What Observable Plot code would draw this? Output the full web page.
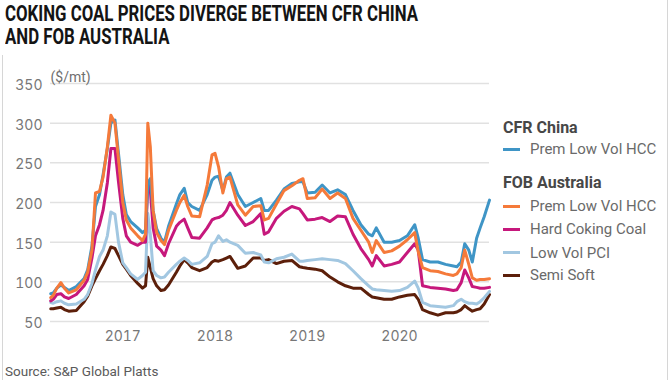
<!DOCTYPE html>
<html>
<head>
<meta charset="utf-8">
<script src="https://cdn.jsdelivr.net/npm/d3@7"></script>
<script src="https://cdn.jsdelivr.net/npm/@observablehq/plot@0.6"></script>
<style>
  html, body { margin: 0; padding: 0; background: #fff; }
  #wrap { position: relative; width: 670px; height: 380px; overflow: hidden; background: #fff; font-family: Roboto, "Noto Sans", sans-serif; }
  #title { position: absolute; left: 5px; top: 2px; font-size: 22.5px; line-height: 23px; font-weight: 700; color: #141414; white-space: nowrap; transform-origin: 0 0; }
  #chart { position: absolute; left: 0; top: 60px; }
  .leg { position: absolute; left: 503px; height: 20px; line-height: 20px; white-space: nowrap; }
  .leg.head { font-weight: 700; font-size: 16px; color: #474747; }
  .leg.item { font-size: 15px; color: #6a6a6a; }
  .sw { position: absolute; left: 0; top: 8.5px; width: 17px; height: 3px; }
  .leg.item span.t { position: absolute; left: 27px; top: 0; }
  #source { position: absolute; left: 5px; top: 361px; height: 20px; line-height: 20px; font-size: 13.5px; color: #5a5a5a; white-space: nowrap; }
  #bl { position: absolute; left: 2px; top: 55px; width: 1px; height: 325px; background: #d6d6d6; }
  #br { position: absolute; left: 667px; top: 0; width: 1px; height: 380px; background: #d6d6d6; }
</style>
</head>
<body>
<div id="wrap">
  <div id="bl"></div><div id="br"></div>
  <div id="title"><div>COKING COAL PRICES DIVERGE BETWEEN CFR CHINA</div><div>AND FOB AUSTRALIA</div></div>
  <div id="chart"></div>
  <div id="legend"></div>
  <div id="source">Source: S&amp;P Global Platts</div>
</div>
<script>
// ---- data ($/mt) ----
const dates = [
  "2016-03-22","2016-04-01","2016-04-15","2016-05-01","2016-05-15","2016-06-01","2016-07-01","2016-08-01","2016-08-15","2016-09-01",
  "2016-09-15","2016-10-01","2016-10-15","2016-11-01","2016-11-15","2016-12-01","2016-12-15","2017-01-01","2017-01-15","2017-02-01",
  "2017-03-01","2017-03-20","2017-04-01","2017-04-10","2017-04-20","2017-05-01","2017-05-15","2017-06-01","2017-06-15","2017-07-01",
  "2017-08-01","2017-08-15","2017-09-01","2017-09-15","2017-10-01","2017-11-01","2017-12-01","2017-12-20","2018-01-01","2018-01-15",
  "2018-02-01","2018-02-15","2018-03-01","2018-04-01","2018-05-01","2018-06-01","2018-07-01","2018-07-15","2018-08-01","2018-09-01",
  "2018-10-01","2018-11-01","2018-12-01","2018-12-15","2019-01-01","2019-02-01","2019-03-01","2019-04-01","2019-05-01","2019-06-01",
  "2019-07-01","2019-08-01","2019-09-01","2019-09-15","2019-10-01","2019-11-01","2019-12-01","2020-01-01","2020-02-01","2020-03-01",
  "2020-03-15","2020-04-01","2020-05-01","2020-06-01","2020-07-01","2020-08-01","2020-08-15","2020-09-01","2020-09-15","2020-10-01",
  "2020-10-15","2020-11-01","2020-11-15","2020-12-01","2020-12-22"
];
const cfrChinaPremLowVolHCC = [
  85,86,92,96,93,89,94,104,115,145,
  195,210,235,268,300,304,262,210,185,176,
  168,162,165,225,230,190,167,155,150,170,
  198,210,218,200,195,190,210,228,232,233,
  215,232,237,210,195,200,205,190,190,203,
  217,224,226,226,212,213,222,212,216,210,
  190,172,160,158,168,150,150,152,158,172,
  155,128,125,125,122,120,119,125,148,140,
  125,155,168,182,203
];
const fobPremLowVolHCC = [
  80,83,92,99,92,86,90,102,112,140,
  212,214,232,270,310,300,255,200,178,168,
  158,152,160,300,270,190,162,152,147,165,
  190,200,209,195,183,182,222,260,262,245,
  212,230,232,197,184,195,196,178,180,198,
  215,221,228,230,205,206,217,205,212,205,
  180,165,150,137,152,137,139,145,153,162,
  138,118,114,113,110,108,110,118,140,122,
  105,102,103,103,104
];
const fobHardCokingCoal = [
  76,78,84,85,81,79,84,95,103,130,
  158,172,190,225,268,268,226,180,158,150,
  146,150,150,225,215,168,145,140,133,148,
  170,175,179,168,156,155,168,178,180,181,
  184,190,200,184,171,176,186,160,163,180,
  189,195,192,186,178,179,181,176,183,182,
  160,142,128,120,133,120,122,125,137,148,
  140,95,93,92,91,89,90,99,115,105,
  94,93,92,92,93
];
const fobLowVolPCI = [
  74,73,75,76,73,71,72,78,84,98,
  115,132,140,158,188,185,150,124,118,110,
  103,108,112,186,160,114,108,105,106,112,
  122,126,130,127,122,124,132,148,150,158,
  151,153,150,146,136,137,134,125,124,129,
  131,135,126,126,127,128,129,128,127,123,
  114,104,95,91,90,89,88,89,93,101,
  92,74,70,69,68,70,75,78,75,73,
  73,72,75,80,88
];
const fobSemiSoft = [
  66,66,67,68,65,63,64,75,82,95,
  104,114,122,133,144,142,133,122,116,108,
  98,92,95,131,118,104,95,89,90,96,
  112,120,128,124,118,114,118,125,127,126,
  128,130,132,117,120,130,130,127,128,123,
  126,127,119,118,117,116,114,106,100,95,
  92,92,84,81,80,78,78,81,83,84,
  78,65,61,58,61,61,62,65,70,66,
  63,65,66,72,84
];
const yTicks = [50, 100, 150, 200, 250, 300, 350];
const xTicks = ["2017-01-01", "2018-01-01", "2019-01-01", "2020-01-01"];

const seriesNames = ["CFR China – Prem Low Vol HCC", "FOB Australia – Prem Low Vol HCC", "Hard Coking Coal", "Low Vol PCI", "Semi Soft"];
const seriesValues = [cfrChinaPremLowVolHCC, fobPremLowVolHCC, fobHardCokingCoal, fobLowVolPCI, fobSemiSoft];
const seriesColors = ["#3f95c6", "#f57a3a", "#c6187c", "#a2c7e1", "#5c1f0a"];
const drawOrder = [4, 3, 2, 0, 1];

const parse = d3.utcParse("%Y-%m-%d");
const tables = seriesValues.map((vals, i) => dates.map((d, j) => ({date: parse(d), value: vals[j], series: seriesNames[i]})));

const chart = Plot.plot({
  width: 500,
  height: 290,
  marginTop: 23,
  marginBottom: 29,
  marginLeft: 50,
  marginRight: 11,
  style: {fontFamily: "Inter, Roboto, sans-serif", fontSize: "14px", color: "#777", background: "transparent"},
  x: {type: "utc", domain: [parse("2016-03-21"), parse("2020-12-22")]},
  y: {domain: [50, 350]},
  marks: [
    Plot.ruleY(yTicks, {stroke: "#e1e1e1", strokeWidth: 1.5}),
    Plot.axisY({ticks: yTicks, tickSize: 0, tickPadding: 8, label: null, dy: 2, letterSpacing: "0.6px", fill: "#777"}),
    Plot.axisX({ticks: xTicks.map(parse), tickSize: 0, tickPadding: 10, tickFormat: d3.utcFormat("%Y"), label: null, letterSpacing: "0.6px", fill: "#777"}),
    ...drawOrder.map(i => Plot.line(tables[i], {x: "date", y: "value", stroke: seriesColors[i], strokeWidth: 3, strokeLinejoin: "round", strokeLinecap: "round"})),
    Plot.text(["($/mt)"], {frameAnchor: "top-left", dy: -11, textAnchor: "start", fontSize: 14, fill: "#6f6f6f", fontFamily: "Roboto, sans-serif"})
  ]
});
document.getElementById("chart").appendChild(chart);

// legend
const legendEntries = [
  {type: "head", text: "CFR China", cy: 128},
  {type: "item", text: "Prem Low Vol HCC", cy: 149, color: seriesColors[0]},
  {type: "head", text: "FOB Australia", cy: 182.5},
  {type: "item", text: "Prem Low Vol HCC", cy: 206, color: seriesColors[1]},
  {type: "item", text: "Hard Coking Coal", cy: 229, color: seriesColors[2]},
  {type: "item", text: "Low Vol PCI", cy: 252.5, color: seriesColors[3]},
  {type: "item", text: "Semi Soft", cy: 275, color: seriesColors[4]}
];
const leg = document.getElementById("legend");
legendEntries.forEach(e => {
  const div = document.createElement("div");
  div.className = "leg " + e.type;
  div.style.top = (e.cy - 10) + "px";
  if (e.type === "head") {
    div.textContent = e.text;
  } else {
    const sw = document.createElement("div");
    sw.className = "sw";
    sw.style.background = e.color;
    const t = document.createElement("span");
    t.className = "t";
    t.textContent = e.text;
    div.appendChild(sw); div.appendChild(t);
  }
  leg.appendChild(div);
});

// condense the title to the reference's width
const title = document.getElementById("title");
const w = title.firstElementChild.scrollWidth;
const r = title.firstElementChild.getBoundingClientRect().width;
title.style.transform = `scaleX(${413 / (r || w)})`;
</script>
</body>
</html>
